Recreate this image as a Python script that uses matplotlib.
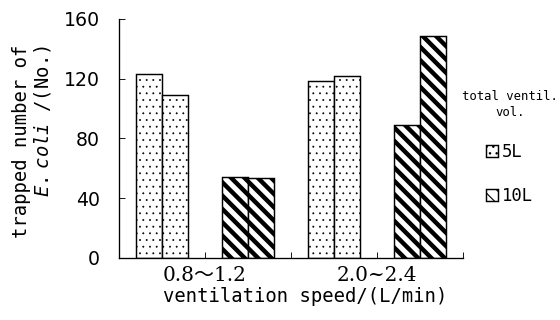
import matplotlib
matplotlib.use('Agg')
import matplotlib.pyplot as plt

# data: two repeated runs for each condition
speed_ranges = ['0.8～1.2', '2.0~2.4']
volumes = ['5L', '10L']
trapped_5L = [[123, 109], [118.5, 122]]
trapped_10L = [[54.5, 53.5], [89, 148.5]]
y_ticks = [0, 40, 80, 120, 160]

plt.rcParams['mathtext.fontset'] = 'custom'
plt.rcParams['mathtext.it'] = 'DejaVu Sans Mono:italic'
plt.rcParams['mathtext.rm'] = 'DejaVu Sans Mono'

# 80 dpi so the hatch pattern spacing comes out close to the original
fig = plt.figure(figsize=(7, 4), dpi=80)
ax = fig.add_axes([0.2125, 0.194, 0.6143, 0.7469])

hatches = {'5L': '..', '10L': '\\\\'}
hatch_lw = {'5L': 0.5, '10L': 4.0}
handles = []
for i, rng in enumerate(speed_ranges):
    for j, vals in enumerate([trapped_5L[i], trapped_10L[i]]):
        vol = volumes[j]
        sec = 2 * i + j
        bars = ax.bar([sec + 0.35, sec + 0.65], vals, width=0.3, color='white',
                      edgecolor='black', linewidth=1.3, hatch=hatches[vol])
        for b in bars:
            if hasattr(b, 'set_hatch_linewidth'):
                b.set_hatch_linewidth(hatch_lw[vol])
        if i == 0:
            handles.append(bars[0])
    ax.text(2 * i + 1, -0.072, rng, transform=ax.get_xaxis_transform(),
            ha='center', va='center', fontsize=18,
            family=['DejaVu Serif', 'Noto Sans CJK JP'])

ax.set_xlim(0, 4)
ax.set_ylim(0, 160)
ax.set_xticks([0, 1, 2, 3, 4])
ax.set_xticklabels([])
ax.set_yticks(y_ticks)
ax.set_yticklabels([str(t) for t in y_ticks], fontsize=17, family='DejaVu Sans')
ax.tick_params(direction='in', length=5, width=0.8, pad=17)
ax.spines['top'].set_visible(False)
ax.spines['right'].set_visible(False)
ax.spines['left'].set_linewidth(1.2)
ax.spines['bottom'].set_linewidth(1.2)

fig.text(0.545, 0.072, 'ventilation speed/(L/min)', ha='center', va='center',
         fontsize=17, family='DejaVu Sans Mono')
fig.text(0.058, 0.558, 'trapped number of\n$E.\\ coli$ /(No.)', rotation=90,
         ha='center', va='center', multialignment='right', linespacing=1.1,
         fontsize=17, family='DejaVu Sans Mono')

fig.text(0.911, 0.675, 'total ventil.\nvol.', ha='center', va='center',
         linespacing=1.3, fontsize=11, family='DejaVu Sans Mono')
leg = ax.legend(handles, volumes, loc='upper left',
                bbox_to_anchor=(486 / 560, 1 - 143 / 320), bbox_transform=fig.transFigure,
                frameon=False, borderpad=0, borderaxespad=0, handlelength=0.7,
                handleheight=0.7, handletextpad=0.2, labelspacing=1.5,
                prop={'family': 'DejaVu Sans Mono', 'size': 15.5})

fig.savefig('out.png', dpi=80)
